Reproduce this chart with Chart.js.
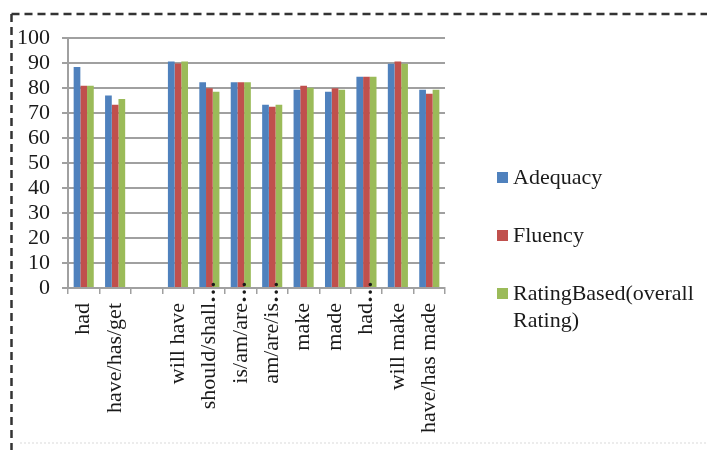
<!DOCTYPE html>
<html>
<head>
<meta charset="utf-8">
<title>Adequacy, Fluency and Rating Based scores</title>
<script src="https://cdn.jsdelivr.net/npm/chart.js@4"></script>
<style>
  html, body { margin: 0; padding: 0; background: #ffffff; }
  #wrap { position: relative; width: 707px; height: 450px; }
</style>
</head>
<body>
<div id="wrap"><canvas id="chart"></canvas></div>
<script>
// Categories (an empty slot separates the first two groups from the rest)
const categories = ['had', 'have/has/get', '', 'will have', 'should/shall…', 'is/am/are…',
                    'am/are/is…', 'make', 'made', 'had…', 'will make', 'have/has made'];

// Scores per category
const adequacy    = [88.4, 77.0, null, 90.6, 82.3, 82.3, 73.3, 79.3, 78.5, 84.5, 89.7, 79.3];
const fluency     = [80.9, 73.3, null, 89.8, 79.9, 82.3, 72.5, 80.9, 79.9, 84.5, 90.6, 77.7];
const ratingBased = [80.9, 75.6, null, 90.6, 78.5, 82.3, 73.3, 80.1, 79.3, 84.5, 89.7, 79.3];

// Series names and y-axis ticks
const seriesNames = ['Adequacy', 'Fluency', ['RatingBased(overall', 'Rating)']];
const yTicks = [0, 10, 20, 30, 40, 50, 60, 70, 80, 90, 100];

const colors = ['#4f81bd', '#c0504d', '#9bbb59'];
const FONT = '"Liberation Serif", "Times New Roman", serif';
const GRID = '#a0a0a0';
const ELLIPSIS = '…';

// Dashed frame around the figure
const framePlugin = {
  id: 'frame',
  afterDraw(chart) {
    const ctx = chart.ctx;
    ctx.save();
    ctx.strokeStyle = '#333333';
    ctx.lineWidth = 2.5;
    ctx.setLineDash([8, 5]);
    ctx.beginPath();
    ctx.moveTo(11.5, 14);
    ctx.lineTo(707, 14);
    ctx.moveTo(11.5, 14);
    ctx.lineTo(11.5, 450);
    ctx.stroke();
    ctx.strokeStyle = '#e6e6e6';
    ctx.lineWidth = 1.5;
    ctx.setLineDash([2, 2]);
    ctx.beginPath();
    ctx.moveTo(20, 443);
    ctx.lineTo(707, 443);
    ctx.stroke();
    ctx.restore();
  }
};

// Trailing ellipsis of shortened category labels, set just above the words
const ellipsisPlugin = {
  id: 'ellipsis',
  afterDraw(chart) {
    const xs = chart.scales.x;
    const ctx = chart.ctx;
    ctx.save();
    ctx.fillStyle = '#1a1a1a';
    ctx.font = 'bold 22px ' + FONT;
    ctx.textAlign = 'left';
    ctx.textBaseline = 'middle';
    categories.forEach((c, i) => {
      if (!c.endsWith(ELLIPSIS)) return;
      const x = xs.getPixelForTick(i);
      ctx.save();
      ctx.translate(x, xs.top + 15);
      ctx.rotate(-Math.PI / 2);
      ctx.fillText(ELLIPSIS, 0, 0);
      ctx.restore();
    });
    ctx.restore();
  }
};

// Legend on the right: square swatch and (possibly two-line) name
const legendPlugin = {
  id: 'sideLegend',
  afterDraw(chart) {
    const ctx = chart.ctx;
    ctx.save();
    ctx.font = '22px ' + FONT;
    ctx.textAlign = 'left';
    ctx.textBaseline = 'middle';
    const x0 = 497, top = 178, step = 58, lineH = 27;
    chart.data.datasets.forEach((ds, i) => {
      const y = top + i * step;
      ctx.fillStyle = ds.backgroundColor;
      ctx.fillRect(x0, y - 6, 11, 11);
      ctx.fillStyle = '#1a1a1a';
      const lines = Array.isArray(seriesNames[i]) ? seriesNames[i] : [seriesNames[i]];
      lines.forEach((t, k) => ctx.fillText(t, x0 + 16, y + k * lineH));
    });
    ctx.restore();
  }
};

new Chart(document.getElementById('chart'), {
  type: 'bar',
  data: {
    labels: categories,
    datasets: [adequacy, fluency, ratingBased].map((d, i) => ({
      label: Array.isArray(seriesNames[i]) ? seriesNames[i].join(' ') : seriesNames[i],
      data: d,
      backgroundColor: colors[i],
      borderWidth: 0,
      categoryPercentage: 0.64,
      barPercentage: 1.0
    }))
  },
  options: {
    responsive: true,
    maintainAspectRatio: false,
    animation: false,
    layout: { padding: { top: 38, right: 262, bottom: 0, left: 0 } },
    plugins: {
      legend: { display: false },
      tooltip: { enabled: false }
    },
    scales: {
      x: {
        grid: {
          offset: true,
          drawOnChartArea: false,
          drawTicks: true,
          tickLength: 6,
          color: GRID,
          lineWidth: 1.5
        },
        border: { color: GRID, width: 2 },
        ticks: {
          autoSkip: false,
          minRotation: 90,
          maxRotation: 90,
          padding: 9,
          color: '#1a1a1a',
          font: { family: FONT, size: 22 },
          callback(v, i) {
            const c = categories[i];
            return c.endsWith(ELLIPSIS) ? c.slice(0, -1) : c;
          }
        },
        afterFit(scale) { scale.height = 162; }
      },
      y: {
        min: 0,
        max: 100,
        afterBuildTicks(scale) { scale.ticks = yTicks.map(v => ({ value: v })); },
        grid: {
          color: GRID,
          lineWidth: 2,
          drawTicks: true,
          tickLength: 6
        },
        border: { color: GRID, width: 2 },
        ticks: {
          autoSkip: false,
          padding: 12,
          color: '#1a1a1a',
          font: { family: FONT, size: 22 }
        },
        afterFit(scale) { scale.width = 68; }
      }
    }
  },
  plugins: [framePlugin, ellipsisPlugin, legendPlugin]
});
</script>
</body>
</html>
